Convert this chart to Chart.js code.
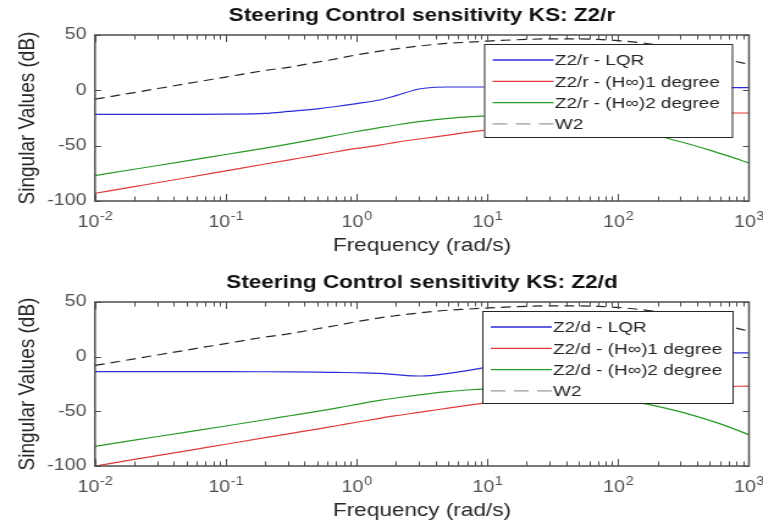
<!DOCTYPE html>
<html>
<head>
<meta charset="utf-8">
<script src="https://cdn.jsdelivr.net/npm/chart.js@4.4.1/dist/chart.umd.min.js"></script>
<style>
  html, body { margin: 0; padding: 0; background: #fff; }
  /* the reference is stretched sideways, so each chart is drawn narrower and scaled */
  .plot { position: absolute; left: 0; transform-origin: 0 0; transform: scaleX(1.2208); }
</style>
</head>
<body>
<div class="plot" style="top:0"><canvas id="chartR" width="625" height="260"></canvas></div>
<div class="plot" style="top:260px"><canvas id="chartD" width="625" height="267"></canvas></div>
<script>
// frequency points (rad/s) shared by every curve
const freq = [0.01, 0.02, 0.05, 0.1, 0.2, 0.3, 0.5, 0.7, 1, 1.5, 2, 3, 4, 5, 7, 10,
              15, 20, 30, 50, 70, 100, 150, 200, 300, 500, 700, 1000];

// weighting W2 (same in both plots)
const w2 =     [-8, -2, 6, 12, 18, 20.8, 25.5, 28.5, 32, 35.5, 37.5, 40, 41.5, 42.5, 43.5, 44.5,
                45.5, 46, 46.5, 46.5, 46, 45, 43, 41, 37, 31.5, 27.5, 23.5];

// KS: Z2/r
const lqrR =   [-21.8, -21.8, -21.7, -21.5, -20.8, -19.1, -16.7, -14.6, -12, -8.7, -4.8, 1.2, 2.8, 3, 3, 3,
                3, 3, 3, 2.9, 2.8, 2.7, 2.6, 2.5, 2.5, 2.4, 2.4, 2.4];
const hinf1R = [-93, -87, -79, -72.8, -66.6, -63, -58.5, -55.5, -52.5, -49.5, -47, -44, -42, -40.5, -38, -35.8,
                -32.8, -30.7, -27.7, -24.6, -23, -22, -21.3, -21, -20.8, -20.6, -20.5, -20.5];
const hinf2R = [-77, -71.3, -63.8, -58, -52.2, -48.6, -43.8, -40.6, -37.2, -33.7, -31.3, -28.3, -26.5, -25.4, -24, -23.1,
                -22.7, -23, -24.3, -27.2, -30, -33.3, -37.8, -41, -46.5, -54, -59.5, -65.7];

// KS: Z2/d
const lqrD =   [-13.7, -13.7, -13.7, -13.7, -13.8, -13.9, -14.1, -14.4, -14.7, -15.3, -16.5, -17.7, -16.8, -15.3, -12.8, -9.5,
                -5.5, -3, -0.5, 1.5, 2.5, 3, 3.2, 3.3, 3.4, 3.4, 3.4, 3.4];
const hinf1D = [-100, -94, -86.1, -80.1, -74.1, -70.6, -66.2, -63.2, -60, -56.4, -54, -51, -48.8, -47.1, -44.5, -42,
                -39, -37, -34, -31, -29.5, -28.5, -28, -27.6, -27.3, -27.2, -27.1, -27];
const hinf2D = [-82, -76.4, -69, -63.4, -57.7, -54.3, -50, -47, -43.6, -40, -37.8, -35, -33.2, -32, -30.5, -29.5,
                -29, -29.3, -30.6, -33.4, -36, -39, -42.5, -45.5, -50.5, -58.3, -64.2, -71.5];

// axis ticks
const xDecades = [0.01, 0.1, 1, 10, 100, 1000];
const xExponents = ['-2', '-1', '0', '1', '2', '3'];
const yTicks = [-100, -50, 0, 50];

const FONT = '"Liberation Sans", Arial, Helvetica, sans-serif';

function pts(vals) {
  return freq.map((f, i) => ({ x: f, y: vals[i] }));
}

// MATLAB look: framed box, inward ticks, 10^n labels, title and an opaque legend
const matlabAxes = {
  id: 'matlabAxes',
  afterDatasetsDraw(chart, args, opts) {
    const { ctx, chartArea: a } = chart;
    const x = chart.scales.x, y = chart.scales.y;
    ctx.save();

    ctx.strokeStyle = '#4d4d4d';
    ctx.lineWidth = 1;
    ctx.beginPath();
    for (let d = -2; d < 3; d++) {
      for (let k = 1; k < 10; k++) {
        const px = Math.round(x.getPixelForValue(k * Math.pow(10, d))) + 0.5;
        const len = k === 1 ? 7 : 4.5;
        ctx.moveTo(px, a.bottom); ctx.lineTo(px, a.bottom - len);
        ctx.moveTo(px, a.top); ctx.lineTo(px, a.top + len);
      }
    }
    yTicks.forEach(v => {
      const py = Math.round(y.getPixelForValue(v)) + 0.5;
      ctx.moveTo(a.left, py); ctx.lineTo(a.left + 5, py);
      ctx.moveTo(a.right, py); ctx.lineTo(a.right - 5, py);
    });
    ctx.stroke();

    ctx.lineWidth = 1.5;
    ctx.strokeRect(a.left, a.top, a.right - a.left, a.bottom - a.top);

    // x tick labels 10^n
    ctx.fillStyle = '#505050';
    ctx.textBaseline = 'alphabetic';
    ctx.textAlign = 'left';
    xDecades.forEach((v, i) => {
      const px = x.getPixelForValue(v);
      ctx.font = '16px ' + FONT;
      const w1 = ctx.measureText('10').width;
      ctx.font = '12px ' + FONT;
      const w2t = ctx.measureText(xExponents[i]).width;
      const x0 = px - (w1 + w2t) / 2;
      ctx.font = '16px ' + FONT;
      ctx.fillText('10', x0, a.bottom + 26);
      ctx.font = '12px ' + FONT;
      ctx.fillText(xExponents[i], x0 + w1 + 0.5, a.bottom + 19);
    });

    // title
    ctx.fillStyle = '#111';
    ctx.font = 'bold 18.5px ' + FONT;
    ctx.textAlign = 'center';
    ctx.fillText(opts.title, (a.left + a.right) / 2, a.top - 14);

    // legend
    const L = opts.legend;
    ctx.fillStyle = '#fff';
    ctx.fillRect(L.left, L.top, L.width, L.height);
    ctx.strokeStyle = '#262626';
    ctx.lineWidth = 1;
    ctx.strokeRect(L.left + 0.5, L.top + 0.5, L.width, L.height);
    ctx.font = '15.5px ' + FONT;
    ctx.textAlign = 'left';
    ctx.textBaseline = 'middle';
    chart.data.datasets.forEach((ds, i) => {
      const ry = L.top + 16 + i * 21.3;
      ctx.beginPath();
      ctx.strokeStyle = ds.legendColor || ds.borderColor;
      ctx.lineWidth = 1.3;
      ctx.setLineDash(ds.borderDash ? [12, 7] : []);
      ctx.moveTo(L.left + 7, ry); ctx.lineTo(L.left + 57, ry);
      ctx.stroke();
      ctx.setLineDash([]);
      ctx.fillStyle = '#262626';
      ctx.fillText(ds.label, L.left + 58, ry + 1);
    });
    ctx.restore();
  }
};

function makeChart(id, tag, lqr, h1, h2, padTop, xHeight, xTitlePad, legendBox) {
  const ctx = document.getElementById(id).getContext('2d');
  return new Chart(ctx, {
    type: 'scatter',
    data: {
      datasets: [
        { label: tag + ' - LQR', data: pts(lqr), borderColor: '#2b2bd9' },
        { label: tag + ' - (H\u221E)1 degree', data: pts(h1), borderColor: '#e03a3a' },
        { label: tag + ' - (H\u221E)2 degree', data: pts(h2), borderColor: '#2a9a2a' },
        { label: 'W2', data: pts(w2), borderColor: '#262626', borderDash: [8, 5], legendColor: '#9a9a9a' }
      ].map(ds => Object.assign(ds, {
        showLine: true, pointRadius: 0, borderWidth: 1.2, cubicInterpolationMode: 'monotone'
      }))
    },
    options: {
      responsive: false,
      animation: false,
      layout: { padding: { top: padTop, right: 11.5, left: 0, bottom: 0 } },
      plugins: {
        legend: { display: false },
        tooltip: { enabled: false },
        matlabAxes: { title: 'Steering Control sensitivity KS: ' + tag, legend: legendBox }
      },
      scales: {
        x: {
          type: 'logarithmic',
          min: 0.01, max: 1000,
          grid: { display: false, drawTicks: false },
          border: { display: false },
          ticks: { display: false },
          afterBuildTicks: s => { s.ticks = xDecades.map(v => ({ value: v })); },
          afterFit: s => { s.height = xHeight; },
          title: {
            display: true, text: 'Frequency (rad/s)', color: '#262626',
            font: { family: FONT, size: 18.5 }, padding: { top: 0, bottom: xTitlePad }
          }
        },
        y: {
          type: 'linear',
          min: -100, max: 50,
          grid: { display: false, drawTicks: false },
          border: { display: false },
          afterBuildTicks: s => { s.ticks = yTicks.map(v => ({ value: v })); },
          ticks: { color: '#505050', padding: 7, font: { family: FONT, size: 16 } },
          afterFit: s => { s.width = 77.8; },
          title: {
            display: true, text: 'Singular Values (dB)', color: '#262626',
            font: { family: FONT, size: 19 }, padding: { top: 11, bottom: 0 }
          }
        }
      }
    },
    plugins: [matlabAxes]
  });
}

makeChart('chartR', 'Z2/r', lqrR, hinf1R, hinf2R, 35, 59, 3,
          { left: 396.5, top: 44, width: 203, height: 93 });
makeChart('chartD', 'Z2/d', lqrD, hinf1D, hinf2D, 42, 61, 5,
          { left: 395, top: 51, width: 205, height: 92 });
</script>
</body>
</html>
